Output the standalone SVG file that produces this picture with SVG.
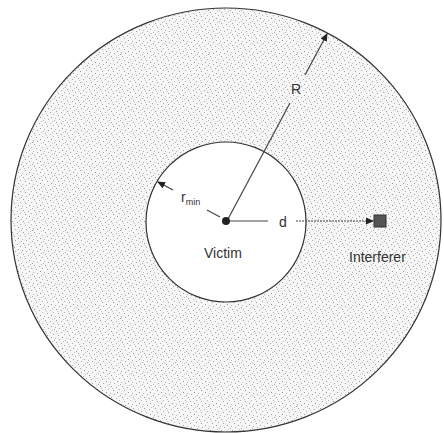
<svg xmlns="http://www.w3.org/2000/svg" width="444" height="433" viewBox="0 0 444 433">
<style>
.lbl{font-family:"Liberation Sans",Arial,sans-serif;fill:#333;font-size:14px}
.ln{stroke:#444;stroke-width:1.2;fill:none}
</style>
<defs>
<pattern id="stip" width="11" height="11" patternUnits="userSpaceOnUse">
<rect width="11" height="11" fill="#f6f6f6"/>
<rect x="1" y="1" width="1" height="1" fill="#9a9a9a"/>
<rect x="6" y="2" width="1" height="1" fill="#aaa"/>
<rect x="9" y="4" width="1" height="1" fill="#b0b0b0"/>
<rect x="3" y="5" width="1" height="1" fill="#a0a0a0"/>
<rect x="7" y="7" width="1" height="1" fill="#999"/>
<rect x="0" y="8" width="1" height="1" fill="#b5b5b5"/>
<rect x="4" y="9" width="1" height="1" fill="#a5a5a5"/>
<rect x="10" y="10" width="1" height="1" fill="#aaa"/>
<rect x="2" y="3" width="1" height="1" fill="#c5c5c5"/>
<rect x="8" y="0" width="1" height="1" fill="#c0c0c0"/>
</pattern>
<marker id="ah" markerWidth="8" markerHeight="8" refX="7" refY="4" orient="auto" markerUnits="userSpaceOnUse">
<path d="M0,0.5 L8,4 L0,7.5 Z" fill="#222"/>
</marker>
</defs>
<g id="outer-area">
<ellipse cx="226" cy="220" rx="215" ry="212" fill="url(#stip)" stroke="#333" stroke-width="1.2"/>
</g>
<g id="inner-area">
<circle cx="226" cy="222" r="80" fill="#fff" stroke="#333" stroke-width="1.2"/>
</g>
<g id="connectors">
<line class="ln" x1="228" y1="219" x2="290" y2="103"/>
<line class="ln" x1="305" y1="75" x2="327" y2="34" marker-end="url(#ah)"/>
<line class="ln" x1="220" y1="217" x2="207" y2="210"/>
<line class="ln" x1="173" y1="190" x2="158" y2="182" marker-end="url(#ah)"/>
<line class="ln" x1="230" y1="221" x2="268" y2="221"/>
<line class="ln" x1="296" y1="221" x2="373" y2="221" stroke-dasharray="2 1" marker-end="url(#ah)"/>
</g>
<g id="victim">
<circle cx="226" cy="221" r="4" fill="#222"/>
<text class="lbl" x="204" y="258">Victim</text>
</g>
<g id="interferer">
<rect x="374" y="215" width="12" height="12" fill="#555" stroke="#333" stroke-width="1"/>
<text class="lbl" x="349" y="262">Interferer</text>
</g>
<g id="labels">
<text class="lbl" x="291" y="94">R</text>
<text class="lbl" x="181" y="202">r<tspan font-size="9" dy="3">min</tspan></text>
<text class="lbl" x="279" y="227">d</text>
</g>
</svg>
